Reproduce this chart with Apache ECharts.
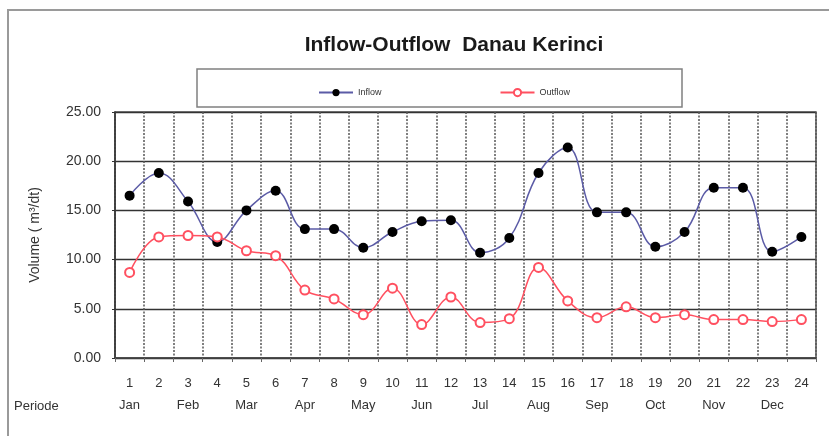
<!DOCTYPE html>
<html>
<head>
<meta charset="utf-8">
<script src="https://cdn.jsdelivr.net/npm/echarts@6/dist/echarts.min.js"></script>
<style>
  html, body { margin: 0; padding: 0; background: #ffffff; }
  #EchartsShow { width: 829px; height: 436px; }
</style>
</head>
<body>
<div id="EchartsShow"></div>
<script>
  // periode 1..24, month name under every odd periode
  var periods = ["1", "2", "3", "4", "5", "6", "7", "8", "9", "10", "11", "12",
                 "13", "14", "15", "16", "17", "18", "19", "20", "21", "22", "23", "24"];
  var months = ["Jan", "", "Feb", "", "Mar", "", "Apr", "", "May", "", "Jun", "",
                "Jul", "", "Aug", "", "Sep", "", "Oct", "", "Nov", "", "Dec", ""];
  var inflow = [16.5, 18.8, 15.9, 11.8, 15.0, 17.0, 13.1, 13.1, 11.2, 12.8, 13.9, 14.0,
                10.7, 12.2, 18.8, 21.4, 14.8, 14.8, 11.3, 12.8, 17.3, 17.3, 10.8, 12.3];
  var outflow = [8.7, 12.3, 12.45, 12.3, 10.9, 10.4, 6.9, 6.0, 4.4, 7.1, 3.4, 6.2,
                 3.6, 4.0, 9.2, 5.8, 4.1, 5.2, 4.1, 4.4, 3.9, 3.9, 3.7, 3.9];
  var yTicks = { min: 0, max: 25, step: 5 };

  var myChart = echarts.init(document.getElementById("EchartsShow"));
  var chartOptions = {
    backgroundColor: "#ffffff",
    animation: false,
    title: {
      text: "Inflow-Outflow  Danau Kerinci",
      left: 449,
      textAlign: "center",
      top: 30,
      textStyle: {
        fontFamily: "Liberation Sans",
        fontSize: 21,
        fontWeight: "bold",
        color: "#1a1a1a",
      },
    },
    graphic: [
      {
        type: "rect",
        shape: { x: 8, y: 10, width: 840, height: 440 },
        style: { fill: "none", stroke: "#9a9a9a", lineWidth: 2 },
        z: -1,
      },
      {
        type: "rect",
        shape: { x: 197, y: 69, width: 485, height: 38 },
        style: { fill: "#ffffff", stroke: "#808080", lineWidth: 1.5 },
        z: 0,
      },
      {
        type: "text",
        left: 14,
        top: 400,
        style: {
          text: "Periode",
          fontFamily: "Liberation Sans",
          fontSize: 13,
          fill: "#333333",
        },
      },
    ],
    legend: {
      left: 313,
      top: 83,
      itemWidth: 34,
      itemHeight: 9,
      itemGap: 118,
      textStyle: { fontSize: 9, color: "#333333", fontFamily: "Liberation Sans" },
      data: ["Inflow", "Outflow"],
      z: 5,
    },
    grid: {
      left: 115,
      right: 13,
      top: 112,
      bottom: 78,
      show: true,
      borderColor: "#555555",
      borderWidth: 1.5,
    },
    xAxis: {
      type: "category",
      data: periods,
      boundaryGap: true,
      axisLine: { show: true, lineStyle: { color: "#444444", width: 1.5 } },
      axisTick: { show: true, interval: 0, length: 4, lineStyle: { color: "#666666" } },
      splitLine: {
        show: true,
        interval: 0,
        lineStyle: { color: "#555555", type: [2, 1.5], width: 1.5 },
      },
      axisLabel: {
        interval: 0,
        margin: 14,
        fontFamily: "Liberation Sans",
        fontSize: 13,
        color: "#333333",
        lineHeight: 22,
        formatter: function (value, index) {
          return value + "\n" + (months[index] || " ");
        },
      },
    },
    yAxis: {
      type: "value",
      min: yTicks.min,
      max: yTicks.max,
      interval: yTicks.step,
      name: "Volume ( m³/dt)",
      nameLocation: "middle",
      nameGap: 73,
      nameRotate: 90,
      nameTextStyle: {
        fontFamily: "Liberation Sans",
        fontSize: 14,
        color: "#333333",
      },
      axisLine: { show: true, lineStyle: { color: "#333333", width: 1.5 } },
      axisTick: { show: true, length: 3, lineStyle: { color: "#333333" } },
      splitLine: { show: true, lineStyle: { color: "#333333", width: 1.4 } },
      axisLabel: {
        margin: 14,
        fontFamily: "Liberation Sans",
        fontSize: 14,
        color: "#333333",
        formatter: function (v) {
          return v.toFixed(2);
        },
      },
    },
    series: [
      {
        name: "Inflow",
        type: "line",
        data: inflow,
        smooth: 0.4,
        symbol: "circle",
        symbolSize: 10,
        itemStyle: { color: "#000000" },
        lineStyle: { color: "#5b5ba6", width: 1.5 },
        z: 3,
      },
      {
        name: "Outflow",
        type: "line",
        data: outflow,
        smooth: 0.4,
        symbol: "emptyCircle",
        symbolSize: 9,
        itemStyle: { color: "#ff5060", borderWidth: 1.5 },
        lineStyle: { color: "#ff5060", width: 1.5 },
        z: 3,
      },
    ],
  };
  myChart.setOption(chartOptions);
</script>
</body>
</html>
